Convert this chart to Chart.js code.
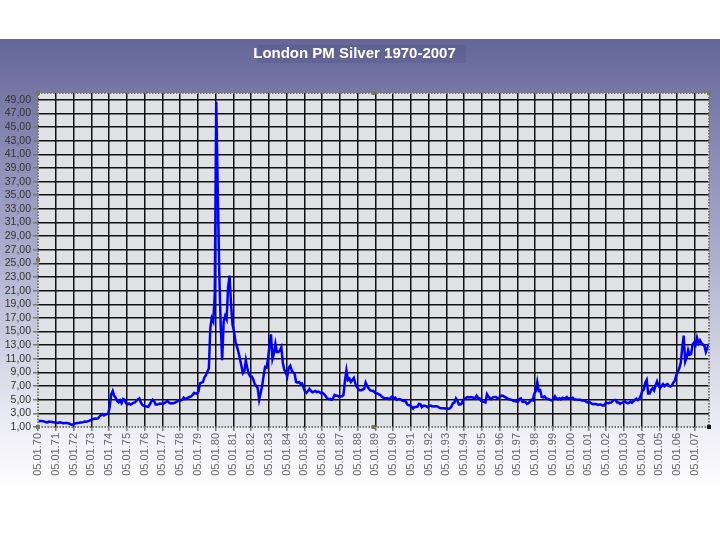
<!DOCTYPE html>
<html>
<head>
<meta charset="utf-8">
<title>London PM Silver 1970-2007</title>
<script src="https://cdn.jsdelivr.net/npm/chart.js@4.4.1/dist/chart.umd.min.js"></script>
<style>
  html, body { margin: 0; padding: 0; background: #fff; }
  #wrap { width: 720px; height: 540px; }
</style>
</head>
<body>
<div id="wrap"><canvas id="silverChart" width="720" height="540"></canvas></div>
<script>
// monthly London PM fix, USD per troy ounce
const firstYear = 1970;

const prices1970s = [
    1.85, 1.88, 1.87, 1.85, 1.78, 1.70, 1.68, 1.80, 1.78, 1.75, 1.70, 1.65, // 1970
    1.62, 1.60, 1.68, 1.65, 1.60, 1.55, 1.58, 1.60, 1.55, 1.45, 1.35, 1.38, // 1971
    1.45, 1.55, 1.58, 1.60, 1.65, 1.65, 1.72, 1.80, 1.78, 1.82, 1.90, 2.00, // 1972
    2.05, 2.20, 2.25, 2.20, 2.25, 2.50, 2.75, 2.90, 2.70, 2.80, 2.90, 3.00, // 1973
    4.00, 5.80, 6.30, 5.60, 5.30, 4.80, 4.60, 4.90, 4.50, 5.10, 5.00, 4.50, // 1974
    4.30, 4.45, 4.30, 4.40, 4.55, 4.60, 4.85, 5.05, 5.20, 4.60, 4.25, 4.10, // 1975
    4.05, 4.00, 3.95, 4.30, 4.70, 5.00, 4.80, 4.30, 4.30, 4.35, 4.45, 4.40, // 1976
    4.40, 4.50, 4.70, 4.80, 4.60, 4.45, 4.50, 4.50, 4.55, 4.70, 4.80, 4.80, // 1977
    4.90, 5.00, 5.30, 5.10, 5.20, 5.30, 5.40, 5.50, 5.70, 6.00, 5.90, 5.90, // 1978
    6.20, 7.40, 7.50, 7.60, 8.30, 8.60, 9.10, 9.60, 15.50, 17.00, 16.50, 20.50 // 1979
];

const prices1980s = [
    48.70, 36.00, 24.00, 16.00, 10.80, 16.50, 17.30, 16.80, 21.50, 23.20, 19.00, 16.00, // 1980
    15.00, 13.50, 12.80, 12.00, 11.00, 10.00, 8.90, 9.20, 10.80, 9.60, 8.80, 8.40, // 1981
    8.40, 8.00, 7.30, 7.00, 6.70, 5.00, 6.00, 7.00, 8.50, 9.80, 9.70, 11.00, // 1982
    13.00, 14.60, 11.00, 11.80, 13.20, 12.00, 12.00, 12.20, 12.70, 10.40, 9.40, 9.00, // 1983
    8.40, 9.70, 10.00, 9.30, 9.00, 8.80, 7.60, 7.50, 7.60, 7.30, 7.40, 6.80, // 1984
    6.20, 6.00, 6.30, 6.60, 6.30, 6.10, 6.20, 6.30, 6.10, 6.20, 6.10, 5.90, // 1985
    6.00, 5.80, 5.50, 5.20, 5.10, 5.10, 5.00, 5.20, 5.70, 5.60, 5.60, 5.40, // 1986
    5.50, 5.50, 5.70, 7.80, 9.30, 7.90, 8.10, 7.60, 7.90, 8.20, 7.40, 6.90, // 1987
    6.60, 6.40, 6.40, 6.50, 6.60, 7.50, 7.00, 6.70, 6.40, 6.30, 6.30, 6.10, // 1988
    5.90, 5.90, 5.80, 5.70, 5.40, 5.30, 5.20, 5.20, 5.20, 5.10, 5.30, 5.50  // 1989
];

const prices1990s = [
    5.20, 5.30, 5.00, 5.05, 5.10, 5.00, 4.85, 4.80, 4.80, 4.35, 4.20, 4.20, // 1990
    3.95, 3.70, 3.95, 3.95, 4.00, 4.40, 4.35, 3.90, 4.10, 4.10, 4.05, 3.90, // 1991
    4.10, 4.15, 4.05, 4.00, 4.05, 4.05, 3.95, 3.80, 3.75, 3.75, 3.75, 3.70, // 1992
    3.70, 3.65, 3.75, 4.00, 4.50, 4.60, 5.20, 4.90, 4.30, 4.30, 4.45, 5.00, // 1993
    5.15, 5.30, 5.40, 5.35, 5.40, 5.35, 5.30, 5.20, 5.60, 5.25, 5.20, 4.85, // 1994
    4.75, 4.70, 4.60, 5.80, 5.45, 5.25, 5.10, 5.35, 5.40, 5.40, 5.25, 5.15, // 1995
    5.50, 5.60, 5.55, 5.40, 5.30, 5.15, 5.05, 5.05, 4.95, 4.80, 4.80, 4.75, // 1996
    4.75, 5.10, 5.20, 4.70, 4.75, 4.70, 4.40, 4.50, 4.70, 5.00, 4.90, 5.90, // 1997
    6.30, 7.60, 6.30, 6.40, 5.40, 5.35, 5.50, 5.20, 5.15, 5.05, 4.95, 4.90, // 1998
    5.15, 5.50, 5.20, 5.05, 5.20, 5.05, 5.30, 5.20, 5.25, 5.40, 5.15, 5.20  // 1999
];

const prices2000s = [
    5.20, 5.30, 5.05, 5.05, 5.00, 5.00, 5.00, 4.90, 4.90, 4.90, 4.70, 4.60, // 2000
    4.70, 4.55, 4.40, 4.35, 4.40, 4.35, 4.25, 4.30, 4.30, 4.15, 4.15, 4.45, // 2001
    4.55, 4.50, 4.55, 4.60, 4.85, 4.95, 4.95, 4.60, 4.60, 4.40, 4.55, 4.60, // 2002
    4.80, 4.60, 4.50, 4.55, 4.75, 4.55, 4.80, 5.00, 5.15, 4.95, 5.15, 5.60, // 2003
    6.30, 6.45, 7.50, 7.90, 5.90, 5.90, 6.45, 6.70, 6.35, 7.10, 7.70, 7.10, // 2004
    6.70, 7.00, 7.30, 7.00, 7.20, 7.30, 7.05, 6.95, 7.10, 7.50, 7.80, 8.60, // 2005
    9.10, 9.60, 10.40, 12.60, 14.40, 10.60, 11.20, 12.30, 11.60, 11.70, 13.10, 13.40, // 2006
    13.00, 14.10, 13.30, 13.70, 13.30, 13.10, 12.90, 12.00, 12.60, 13.20 // 2007 (to Oct)
];

const tickYears = [1970, 1971, 1972, 1973, 1974, 1975, 1976, 1977, 1978, 1979,
                   1980, 1981, 1982, 1983, 1984, 1985, 1986, 1987, 1988, 1989,
                   1990, 1991, 1992, 1993, 1994, 1995, 1996, 1997, 1998, 1999,
                   2000, 2001, 2002, 2003, 2004, 2005, 2006, 2007];
const yTicks = [1, 3, 5, 7, 9, 11, 13, 15, 17, 19, 21, 23, 25, 27, 29, 31, 33, 35, 37, 39, 41, 43, 45, 47, 49];

const allPrices = prices1970s.concat(prices1980s, prices1990s, prices2000s);
// each value sits in the middle of its month
const points = allPrices.map((v, i) => ({ x: firstYear + (i + 0.5) / 12, y: v }));

const FONT = "'Liberation Sans', Arial, Helvetica, sans-serif";

// page background, title box and the plot panel
const backdrop = {
    id: 'backdrop',
    beforeDraw(chart) {
        const ctx = chart.ctx;
        const area = chart.chartArea;
        ctx.save();
        ctx.fillStyle = '#ffffff';
        ctx.fillRect(0, 0, chart.width, chart.height);

        const g = ctx.createLinearGradient(0, 39, 0, 490);
        g.addColorStop(0, 'rgb(100,102,152)');
        g.addColorStop(0.45, 'rgb(168,169,202)');
        g.addColorStop(0.85, 'rgb(236,236,244)');
        g.addColorStop(1, 'rgb(255,255,255)');
        ctx.fillStyle = g;
        ctx.fillRect(0, 39, chart.width, chart.height - 39);

        ctx.fillStyle = 'rgba(80,82,135,0.35)';
        ctx.fillRect(258, 45, 208, 18);

        ctx.fillStyle = 'rgb(224,225,228)';
        ctx.fillRect(area.left, area.top, area.right - area.left, area.bottom - area.top);
        ctx.restore();
    },
    afterDraw(chart) {
        const ctx = chart.ctx;
        const a = chart.chartArea;
        ctx.save();
        ctx.strokeStyle = 'rgb(120,120,105)';
        ctx.lineWidth = 2;
        ctx.setLineDash([1.5, 1.5]);
        ctx.strokeRect(a.left, a.top, a.right - a.left, a.bottom - a.top);
        ctx.setLineDash([]);
        // selection handles
        ctx.fillStyle = 'rgb(120,120,90)';
        const midX = (a.left + a.right) / 2;
        const midY = (a.top + a.bottom) / 2;
        [[a.left, a.top], [midX, a.top], [a.right, a.top], [a.left, midY],
         [a.left, a.bottom], [midX, a.bottom]].forEach(p => ctx.fillRect(p[0] - 2, p[1] - 2, 4, 4));
        ctx.fillStyle = '#111';
        ctx.fillRect(a.right - 2, a.bottom - 2, 4, 4);
        ctx.restore();
    }
};

const ctx = document.getElementById('silverChart').getContext('2d');
const chart = new Chart(ctx, {
    type: 'line',
    data: {
        datasets: [{
            label: 'London PM Silver',
            data: points,
            borderColor: '#0000ff',
            borderWidth: 2.5,
            pointRadius: 0,
            tension: 0,
            fill: false
        }]
    },
    options: {
        responsive: false,
        animation: false,
        layout: { padding: { left: 0, right: 11, top: 0, bottom: 0 } },
        plugins: {
            legend: { display: false },
            tooltip: { enabled: false },
            title: {
                display: true,
                text: 'London PM Silver 1970-2007',
                color: '#ffffff',
                font: { family: FONT, size: 15, weight: 'bold' },
                padding: { top: 45, bottom: 30 }
            }
        },
        scales: {
            x: {
                type: 'linear',
                min: 1970,
                max: 2007.8,
                afterBuildTicks(scale) {
                    scale.ticks = tickYears.map(v => ({ value: v }));
                },
                afterFit(scale) { scale.height = 113; },
                ticks: {
                    autoSkip: false,
                    minRotation: 90,
                    maxRotation: 90,
                    padding: 2,
                    color: '#666666',
                    font: { family: FONT, size: 11 },
                    callback: v => '05.01.' + String(v).slice(2)
                },
                grid: {
                    color: c => (c.tick && c.tick.value === 1970) ? 'rgba(0,0,0,0)' : '#111111',
                    lineWidth: 1.5,
                    tickColor: '#777777',
                    tickLength: 4
                },
                border: { display: false }
            },
            y: {
                min: 1,
                max: 50,
                afterBuildTicks(scale) {
                    scale.ticks = yTicks.map(v => ({ value: v }));
                },
                afterFit(scale) { scale.width = 38; },
                ticks: {
                    autoSkip: false,
                    padding: 2,
                    color: '#333333',
                    font: { family: FONT, size: 10.5 },
                    callback: v => v.toFixed(2).replace('.', ',')
                },
                grid: {
                    color: c => (c.tick && c.tick.value === 1) ? 'rgba(0,0,0,0)' : '#111111',
                    lineWidth: 1.5,
                    tickColor: '#777777',
                    tickLength: 5
                },
                border: { display: false }
            }
        }
    },
    plugins: [backdrop]
});
</script>
</body>
</html>
